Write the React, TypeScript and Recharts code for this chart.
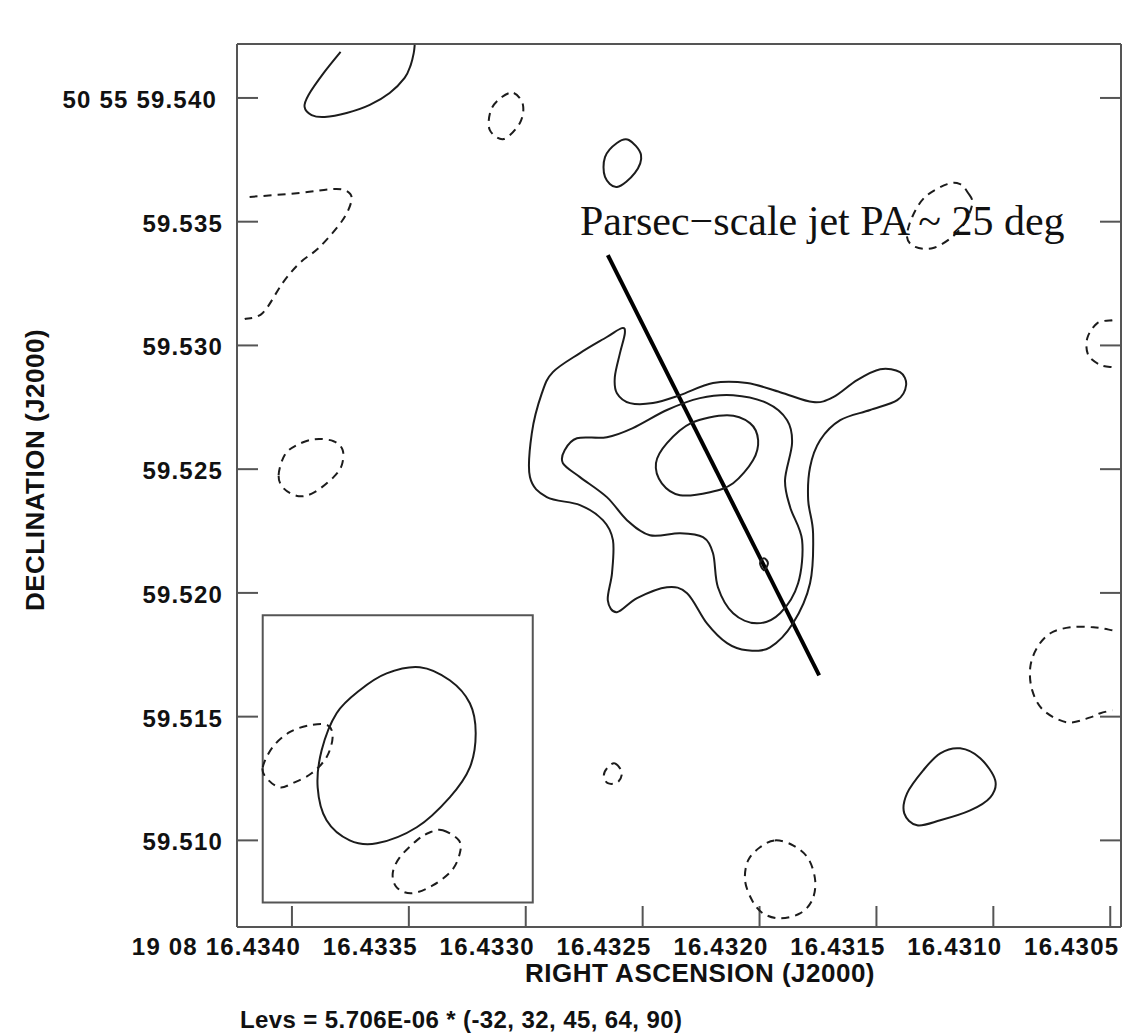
import React from 'react';
import {
  ScatterChart,
  Scatter,
  XAxis,
  YAxis,
  ReferenceArea,
  ReferenceLine,
  ReferenceDot,
} from 'recharts';

// x = RA offset from 19h08m16.4300s in microseconds of time
// y = Dec offset from +50d55m59.500s in milliarcseconds
const raTicks = [4000, 3500, 3000, 2500, 2000, 1500, 1000, 500];
const decTicks = [10, 15, 20, 25, 30, 35, 40];
const raDomain = [454, 4235];
const decDomain = [6.5, 42.18];
const levels = [-32, 32, 45, 64, 90];
const levUnit = '5.706E-06';

// contours, [ra, dec] pairs; "neg" = -32 level (dashed)
const posTopLeft = [[3792, 41.86], [3864, 41.01], [3929, 40.12], [3946, 39.64], [3916, 39.31], [3860, 39.23], [3766, 39.39], [3667, 39.72], [3582, 40.2], [3518, 40.81], [3492, 41.33], [3479, 41.82], [3475, 42.14]];
const negTopSmall = [[3051, 40.2], [3012, 39.72], [3025, 38.99], [3094, 38.34], [3154, 38.71], [3149, 39.51], [3102, 40.04]];
const posTopBlob = [[2559, 38.3], [2507, 37.7], [2533, 36.97], [2610, 36.4], [2661, 36.81], [2661, 37.61], [2610, 38.18]];
const negLeftWedge = [[4181, 36.0], [3967, 36.16], [3826, 36.32], [3766, 36.24], [3745, 35.88], [3783, 35.07], [3881, 33.98], [3967, 33.33], [4040, 32.52], [4125, 31.31], [4202, 31.07]];
const negLeftOval = [[4057, 24.76], [4031, 25.57], [3980, 25.97], [3903, 26.21], [3822, 26.13], [3783, 25.77], [3787, 25.16], [3822, 24.68], [3903, 24.07], [3971, 23.91], [4036, 24.23]];
const core32 = [[2589, 30.7], [2576, 30.5], [2597, 29.69], [2619, 28.72], [2610, 28.07], [2554, 27.67], [2456, 27.67], [2340, 27.99], [2199, 28.48], [2053, 28.48], [1912, 28.11], [1771, 27.71], [1685, 27.91], [1583, 28.6], [1484, 29.04], [1399, 28.92], [1373, 28.4], [1411, 27.79], [1527, 27.39], [1655, 26.98], [1741, 26.17], [1784, 25.08], [1792, 23.75], [1771, 22.41], [1784, 20.39], [1857, 18.77], [1955, 17.8], [2053, 17.68], [2139, 17.97], [2225, 18.77], [2310, 19.99], [2396, 20.23], [2524, 19.79], [2610, 19.22], [2649, 19.7], [2631, 20.8], [2627, 22.13], [2670, 22.94], [2768, 23.55], [2910, 23.87], [2982, 24.68], [2974, 26.46], [2931, 28.07], [2884, 28.92], [2768, 29.69], [2653, 30.34]];
const core45 = [[2833, 25.77], [2781, 26.25], [2653, 26.29], [2542, 26.66], [2396, 27.39], [2255, 27.87], [2113, 27.99], [1968, 27.67], [1882, 26.98], [1861, 26.05], [1891, 24.56], [1869, 23.46], [1818, 22.13], [1835, 20.39], [1912, 19.18], [2011, 18.77], [2113, 19.18], [2178, 20.23], [2199, 21.6], [2242, 22.25], [2340, 22.41], [2469, 22.33], [2567, 22.94], [2653, 23.87], [2768, 24.68], [2841, 25.24]];
const core64 = [[2443, 25.24], [2396, 26.05], [2293, 26.86], [2139, 27.18], [2041, 26.86], [2006, 26.17], [2028, 25.36], [2113, 24.43], [2212, 24.07], [2340, 23.95], [2418, 24.43]];
const core90 = [[1998, 21.2], [1981, 21.4], [1964, 21.2], [1981, 20.92]];
const negNearLabel = [[1108, 36.16], [1090, 35.75], [1120, 34.99], [1176, 34.38], [1257, 33.94], [1334, 33.98], [1369, 34.38], [1347, 35.19], [1292, 36.0], [1197, 36.52], [1142, 36.52]];
const negEdgeTop = [[491, 31.02], [555, 30.9], [598, 30.3], [594, 29.61], [542, 29.21], [491, 29.12]];
const negEdgeLow = [[491, 18.49], [572, 18.61], [671, 18.61], [756, 18.37], [812, 17.8], [842, 17.0], [834, 16.07], [786, 15.26], [684, 14.77], [585, 14.97], [542, 15.14], [491, 15.26]];
const posLowRight = [[1142, 13.72], [1056, 13.32], [992, 12.43], [1013, 11.74], [1099, 11.21], [1227, 10.81], [1326, 10.61], [1381, 11.09], [1369, 11.9], [1300, 12.83], [1227, 13.52]];
const negTiny = [[2619, 13.11], [2589, 12.75], [2606, 12.35], [2649, 12.31], [2666, 12.63], [2649, 12.95]];
const negBottom = [[1934, 10.0], [1857, 9.8], [1792, 9.27], [1762, 8.38], [1775, 7.58], [1827, 7.05], [1912, 6.85], [1985, 7.05], [2032, 7.58], [2062, 8.38], [2049, 9.19], [1998, 9.72]];

// restoring beam inset
const beamBox = [[4125, 7.49], [2970, 19.1]];
const beam = [[3453, 17.0], [3325, 16.47], [3239, 15.54], [3214, 14.33], [3239, 12.95], [3325, 11.74], [3466, 10.53], [3637, 9.88], [3753, 10.0], [3852, 10.81], [3890, 12.14], [3873, 13.64], [3809, 15.14], [3710, 16.07], [3595, 16.75]];
const negBeamLeft = [[4125, 12.95], [4083, 13.76], [4010, 14.37], [3924, 14.65], [3847, 14.65], [3826, 14.17], [3852, 13.36], [3916, 12.71], [3997, 12.31], [4053, 12.14], [4108, 12.51]];
const negBeamLow = [[3355, 10.41], [3286, 10.0], [3282, 9.48], [3316, 8.79], [3398, 8.18], [3488, 7.86], [3552, 8.1], [3569, 8.67], [3539, 9.31], [3466, 10.0], [3411, 10.32]];

const jetAxis = [[2649, 33.65], [1745, 16.67]];
const jetLabelAt = [2768, 34.46];

const contours = [
  { name: 'posTopLeft', pts: posTopLeft, neg: false, closed: false },
  { name: 'negTopSmall', pts: negTopSmall, neg: true, closed: true },
  { name: 'posTopBlob', pts: posTopBlob, neg: false, closed: true },
  { name: 'negLeftWedge', pts: negLeftWedge, neg: true, closed: false },
  { name: 'negLeftOval', pts: negLeftOval, neg: true, closed: true },
  { name: 'core32', pts: core32, neg: false, closed: true },
  { name: 'core45', pts: core45, neg: false, closed: true },
  { name: 'core64', pts: core64, neg: false, closed: true },
  { name: 'core90', pts: core90, neg: false, closed: true },
  { name: 'negNearLabel', pts: negNearLabel, neg: true, closed: true },
  { name: 'negEdgeTop', pts: negEdgeTop, neg: true, closed: false },
  { name: 'negEdgeLow', pts: negEdgeLow, neg: true, closed: false },
  { name: 'posLowRight', pts: posLowRight, neg: false, closed: true },
  { name: 'negTiny', pts: negTiny, neg: true, closed: true },
  { name: 'negBottom', pts: negBottom, neg: true, closed: true },
  { name: 'beam', pts: beam, neg: false, closed: true },
  { name: 'negBeamLeft', pts: negBeamLeft, neg: true, closed: true },
  { name: 'negBeamLow', pts: negBeamLow, neg: true, closed: true },
];

// catmull-rom curve factory for smooth contours through the points
const catmull = (closed: boolean) => (context: any) => {
  let pts: number[][] = [];
  return {
    areaStart() {},
    areaEnd() {},
    lineStart() {
      pts = [];
    },
    point(x: number, y: number) {
      pts.push([+x, +y]);
    },
    lineEnd() {
      const n = pts.length;
      if (!n) return;
      const get = (i: number) =>
        closed ? pts[(i + n) % n] : pts[Math.max(0, Math.min(n - 1, i))];
      context.moveTo(pts[0][0], pts[0][1]);
      const segs = closed ? n : n - 1;
      for (let i = 0; i < segs; i++) {
        const p0 = get(i - 1);
        const p1 = get(i);
        const p2 = get(i + 1);
        const p3 = get(i + 2);
        context.bezierCurveTo(
          p1[0] + (p2[0] - p0[0]) / 6,
          p1[1] + (p2[1] - p0[1]) / 6,
          p2[0] - (p3[0] - p1[0]) / 6,
          p2[1] - (p3[1] - p1[1]) / 6,
          p2[0],
          p2[1]
        );
      }
      if (closed) context.closePath();
    },
  };
};
const curveClosed = catmull(true);
const curveOpen = catmull(false);

const toPts = (a: number[][]) => a.map(([x, y]) => ({ x, y }));
const noDot = () => <g />;

const labelFont = {
  fontFamily: '"Liberation Sans", Arial, sans-serif',
  fontWeight: 700,
  fill: '#111',
};
const frame = { stroke: '#555', strokeWidth: 2 };

function RaTick({ x, y, payload }: any) {
  const txt = (payload.value === 4000 ? '19 08 ' : '') + (16.43 + payload.value * 1e-6).toFixed(4);
  return (
    <text x={x + 9} y={y + 18} textAnchor="end" fontSize={24} letterSpacing={1.2} {...labelFont}>
      {txt}
    </text>
  );
}

function DecTick({ x, y, payload }: any) {
  const first = payload.value === 40;
  const txt = (first ? '50 55 ' : '') + (59.5 + payload.value / 1000).toFixed(3);
  return (
    <text x={first ? x - 5 : x + 1} y={y + 10} textAnchor="end" fontSize={24} letterSpacing={1.2} {...labelFont}>
      {txt}
    </text>
  );
}

// top / right axes only carry the inward tick marks
function NoLabel() {
  return null;
}

function RaTitle(props: any) {
  const vb = props.viewBox || { x: 237, y: 927, width: 884, height: 60 };
  return (
    <g>
      <text x={vb.x + vb.width / 2 + 21} y={vb.y + 55} textAnchor="middle" fontSize={26} letterSpacing={0.5} {...labelFont}>
        RIGHT ASCENSION (J2000)
      </text>
      <text x={vb.x + 3} y={vb.y + 101} textAnchor="start" fontSize={24} letterSpacing={0.4} {...labelFont}>
        {`Levs = ${levUnit} * (${levels.join(', ')})`}
      </text>
    </g>
  );
}

function DecTitle() {
  return (
    <text
      x={44}
      y={470}
      transform="rotate(-90 44 470)"
      textAnchor="middle"
      fontSize={26}
      letterSpacing={0.5}
      {...labelFont}
    >
      DECLINATION (J2000)
    </text>
  );
}

function JetLabel(props: any) {
  const vb = props.viewBox || { x: 580, y: 234 };
  return (
    <text x={vb.x} y={vb.y} fontSize={42} fontFamily='"Liberation Serif", "Times New Roman", serif' fill="#111">
      Parsec−scale jet PA ~ 25 deg
    </text>
  );
}

export default function App() {
  return (
    <div style={{ position: 'absolute', left: 0, top: 0, background: '#fff' }}>
      <ScatterChart width={1123} height={1034} margin={{ top: 43, right: 1, bottom: 47, left: 0 }}>
        <XAxis
          type="number"
          dataKey="x"
          domain={raDomain}
          ticks={raTicks}
          reversed
          allowDataOverflow
          interval={0}
          height={60}
          tickSize={-21}
          tickMargin={31}
          axisLine={frame}
          tickLine={frame}
          tick={<RaTick />}
          label={RaTitle}
        />
        <XAxis
          xAxisId="top"
          orientation="top"
          type="number"
          domain={raDomain}
          ticks={raTicks}
          reversed
          allowDataOverflow
          interval={0}
          height={1}
          tickSize={-21}
          axisLine={frame}
          tickLine={frame}
          tick={<NoLabel />}
        />
        <YAxis
          type="number"
          dataKey="y"
          domain={decDomain}
          ticks={decTicks}
          allowDataOverflow
          interval={0}
          width={237}
          tickSize={-21}
          tickMargin={36}
          axisLine={frame}
          tickLine={frame}
          tick={<DecTick />}
          label={DecTitle}
        />
        <YAxis
          yAxisId="right"
          orientation="right"
          type="number"
          domain={decDomain}
          ticks={decTicks}
          allowDataOverflow
          interval={0}
          width={1}
          tickSize={-21}
          axisLine={frame}
          tickLine={frame}
          tick={<NoLabel />}
        />
        <ReferenceArea
          x1={beamBox[0][0]}
          x2={beamBox[1][0]}
          y1={beamBox[0][1]}
          y2={beamBox[1][1]}
          fill="none"
          fillOpacity={0}
          stroke="#555"
          strokeWidth={2}
        />
        {contours.map((c) => (
          <Scatter
            key={c.name}
            name={c.name}
            data={toPts(c.pts)}
            shape={noDot}
            isAnimationActive={false}
            line={{
              stroke: '#1c1c1c',
              strokeWidth: 2,
              strokeDasharray: c.neg ? '8 6' : undefined,
              fill: 'none',
            }}
            lineJointType={c.closed ? curveClosed : curveOpen}
          />
        ))}
        <ReferenceLine
          segment={toPts(jetAxis)}
          stroke="#000"
          strokeWidth={4}
        />
        <ReferenceDot
          x={jetLabelAt[0]}
          y={jetLabelAt[1]}
          r={0}
          fill="none"
          stroke="none"
          label={JetLabel}
        />
      </ScatterChart>
    </div>
  );
}
